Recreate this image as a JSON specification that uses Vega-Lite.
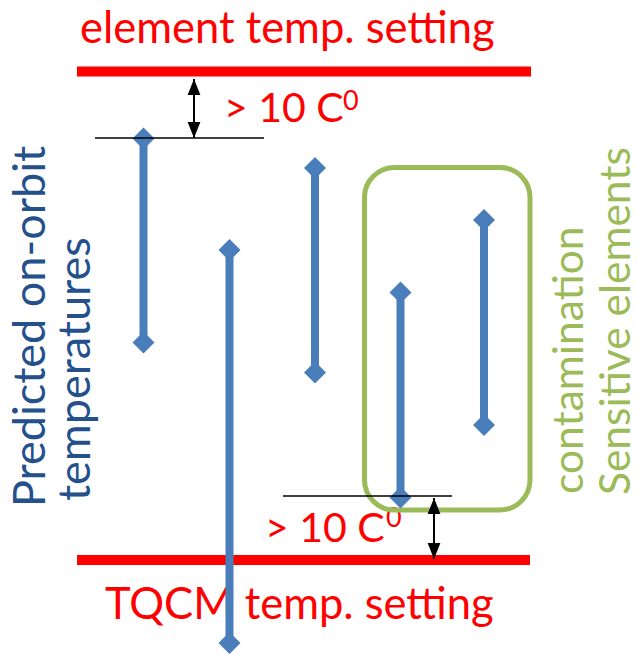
{
  "$schema": "https://vega.github.io/schema/vega-lite/v6.json",
  "width": 638,
  "height": 655,
  "autosize": {"type": "none"},
  "padding": 0,
  "background": "white",
  "config": {"view": {"stroke": null}, "font": "Lato"},
  "datasets": {
    "settings": [
      {"label": "element temp. setting", "y": 71.5, "x1": 77, "x2": 531, "tx": 80, "ty": 43},
      {"label": "TQCM temp. setting", "y": 560, "x1": 77, "x2": 530, "tx": 105, "ty": 619}
    ],
    "margins": [
      {"label": "> 10 C", "sup": "0", "tx": 224, "ty": 122, "sx": 343, "sy": 110, "lx1": 95, "lx2": 264, "ly": 138, "ax": 194, "a1": 79, "a2": 138},
      {"label": "> 10 C", "sup": "0", "tx": 265, "ty": 542, "sx": 386, "sy": 527, "lx1": 283, "lx2": 452, "ly": 496, "ax": 434, "a1": 498, "a2": 559}
    ],
    "ranges": [
      {"id": 1, "x": 143.5, "lo": 138.5, "hi": 342.5},
      {"id": 2, "x": 229.5, "lo": 250, "hi": 643},
      {"id": 3, "x": 315, "lo": 168, "hi": 372.5},
      {"id": 4, "x": 400.5, "lo": 292.5, "hi": 497.5},
      {"id": 5, "x": 484, "lo": 220, "hi": 425}
    ],
    "box": [{"x1": 364.5, "x2": 530, "y1": 167.5, "y2": 510}],
    "leftText": [
      {"label": "Predicted on-orbit", "x": 45, "y": 507},
      {"label": "temperatures", "x": 90, "y": 501}
    ],
    "rightText": [
      {"label": "contamination", "x": 583, "y": 494},
      {"label": "Sensitive elements", "x": 630, "y": 495}
    ]
  },
  "layer": [
    {
      "data": {"name": "settings"},
      "mark": {"type": "rule", "color": "#ff0000", "strokeWidth": 10},
      "encoding": {
        "x": {"field": "x1", "type": "quantitative", "scale": {"domain": [0, 638], "nice": false, "zero": false}, "axis": null},
        "x2": {"field": "x2"},
        "y": {"field": "y", "type": "quantitative", "scale": {"domain": [0, 655], "nice": false, "zero": false, "reverse": true}, "axis": null}
      }
    },
    {
      "data": {"name": "settings"},
      "mark": {"type": "text", "color": "#ff0000", "fontSize": 43.5, "align": "left", "baseline": "alphabetic"},
      "encoding": {
        "x": {"field": "tx", "type": "quantitative"},
        "y": {"field": "ty", "type": "quantitative"},
        "text": {"field": "label"}
      }
    },
    {
      "data": {"name": "margins"},
      "mark": {"type": "text", "color": "#ff0000", "fontSize": 41, "align": "left", "baseline": "alphabetic"},
      "encoding": {
        "x": {"field": "tx", "type": "quantitative"},
        "y": {"field": "ty", "type": "quantitative"},
        "text": {"field": "label"}
      }
    },
    {
      "data": {"name": "margins"},
      "mark": {"type": "text", "color": "#ff0000", "fontSize": 27, "align": "left", "baseline": "alphabetic"},
      "encoding": {
        "x": {"field": "sx", "type": "quantitative"},
        "y": {"field": "sy", "type": "quantitative"},
        "text": {"field": "sup"}
      }
    },
    {
      "data": {"name": "box"},
      "mark": {"type": "rect", "fill": null, "fillOpacity": 0, "stroke": "#9bbb59", "strokeWidth": 5, "cornerRadius": 30},
      "encoding": {
        "x": {"field": "x1", "type": "quantitative"},
        "x2": {"field": "x2"},
        "y": {"field": "y1", "type": "quantitative"},
        "y2": {"field": "y2"}
      }
    },
    {
      "data": {"name": "leftText"},
      "mark": {"type": "text", "color": "#24508c", "fontSize": 45, "angle": 270, "align": "left", "baseline": "alphabetic"},
      "encoding": {
        "x": {"field": "x", "type": "quantitative"},
        "y": {"field": "y", "type": "quantitative"},
        "text": {"field": "label"}
      }
    },
    {
      "data": {"name": "rightText"},
      "mark": {"type": "text", "color": "#9bbb59", "fontSize": 42.5, "angle": 270, "align": "left", "baseline": "alphabetic"},
      "encoding": {
        "x": {"field": "x", "type": "quantitative"},
        "y": {"field": "y", "type": "quantitative"},
        "text": {"field": "label"}
      }
    },
    {
      "data": {"name": "ranges"},
      "mark": {"type": "rule", "color": "#4a7ebb", "strokeWidth": 8},
      "encoding": {
        "x": {"field": "x", "type": "quantitative"},
        "y": {"field": "lo", "type": "quantitative"},
        "y2": {"field": "hi"}
      }
    },
    {
      "data": {"name": "ranges"},
      "mark": {"type": "point", "shape": "diamond", "filled": true, "size": 484, "color": "#4a7ebb", "opacity": 1},
      "encoding": {
        "x": {"field": "x", "type": "quantitative"},
        "y": {"field": "lo", "type": "quantitative"}
      }
    },
    {
      "data": {"name": "ranges"},
      "mark": {"type": "point", "shape": "diamond", "filled": true, "size": 484, "color": "#4a7ebb", "opacity": 1},
      "encoding": {
        "x": {"field": "x", "type": "quantitative"},
        "y": {"field": "hi", "type": "quantitative"}
      }
    },
    {
      "data": {"name": "margins"},
      "mark": {"type": "rule", "color": "#000000", "strokeWidth": 1.7},
      "encoding": {
        "x": {"field": "lx1", "type": "quantitative"},
        "x2": {"field": "lx2"},
        "y": {"field": "ly", "type": "quantitative"}
      }
    },
    {
      "data": {"name": "margins"},
      "mark": {"type": "rule", "color": "#000000", "strokeWidth": 2},
      "encoding": {
        "x": {"field": "ax", "type": "quantitative"},
        "y": {"field": "a1", "type": "quantitative"},
        "y2": {"field": "a2"}
      }
    },
    {
      "data": {"name": "margins"},
      "mark": {"type": "point", "shape": "M0,0L-0.8,2L0.8,2Z", "filled": true, "size": 256, "color": "#000000", "opacity": 1},
      "encoding": {
        "x": {"field": "ax", "type": "quantitative"},
        "y": {"field": "a1", "type": "quantitative"}
      }
    },
    {
      "data": {"name": "margins"},
      "mark": {"type": "point", "shape": "M0,0L-0.8,-2L0.8,-2Z", "filled": true, "size": 256, "color": "#000000", "opacity": 1},
      "encoding": {
        "x": {"field": "ax", "type": "quantitative"},
        "y": {"field": "a2", "type": "quantitative"}
      }
    }
  ]
}
